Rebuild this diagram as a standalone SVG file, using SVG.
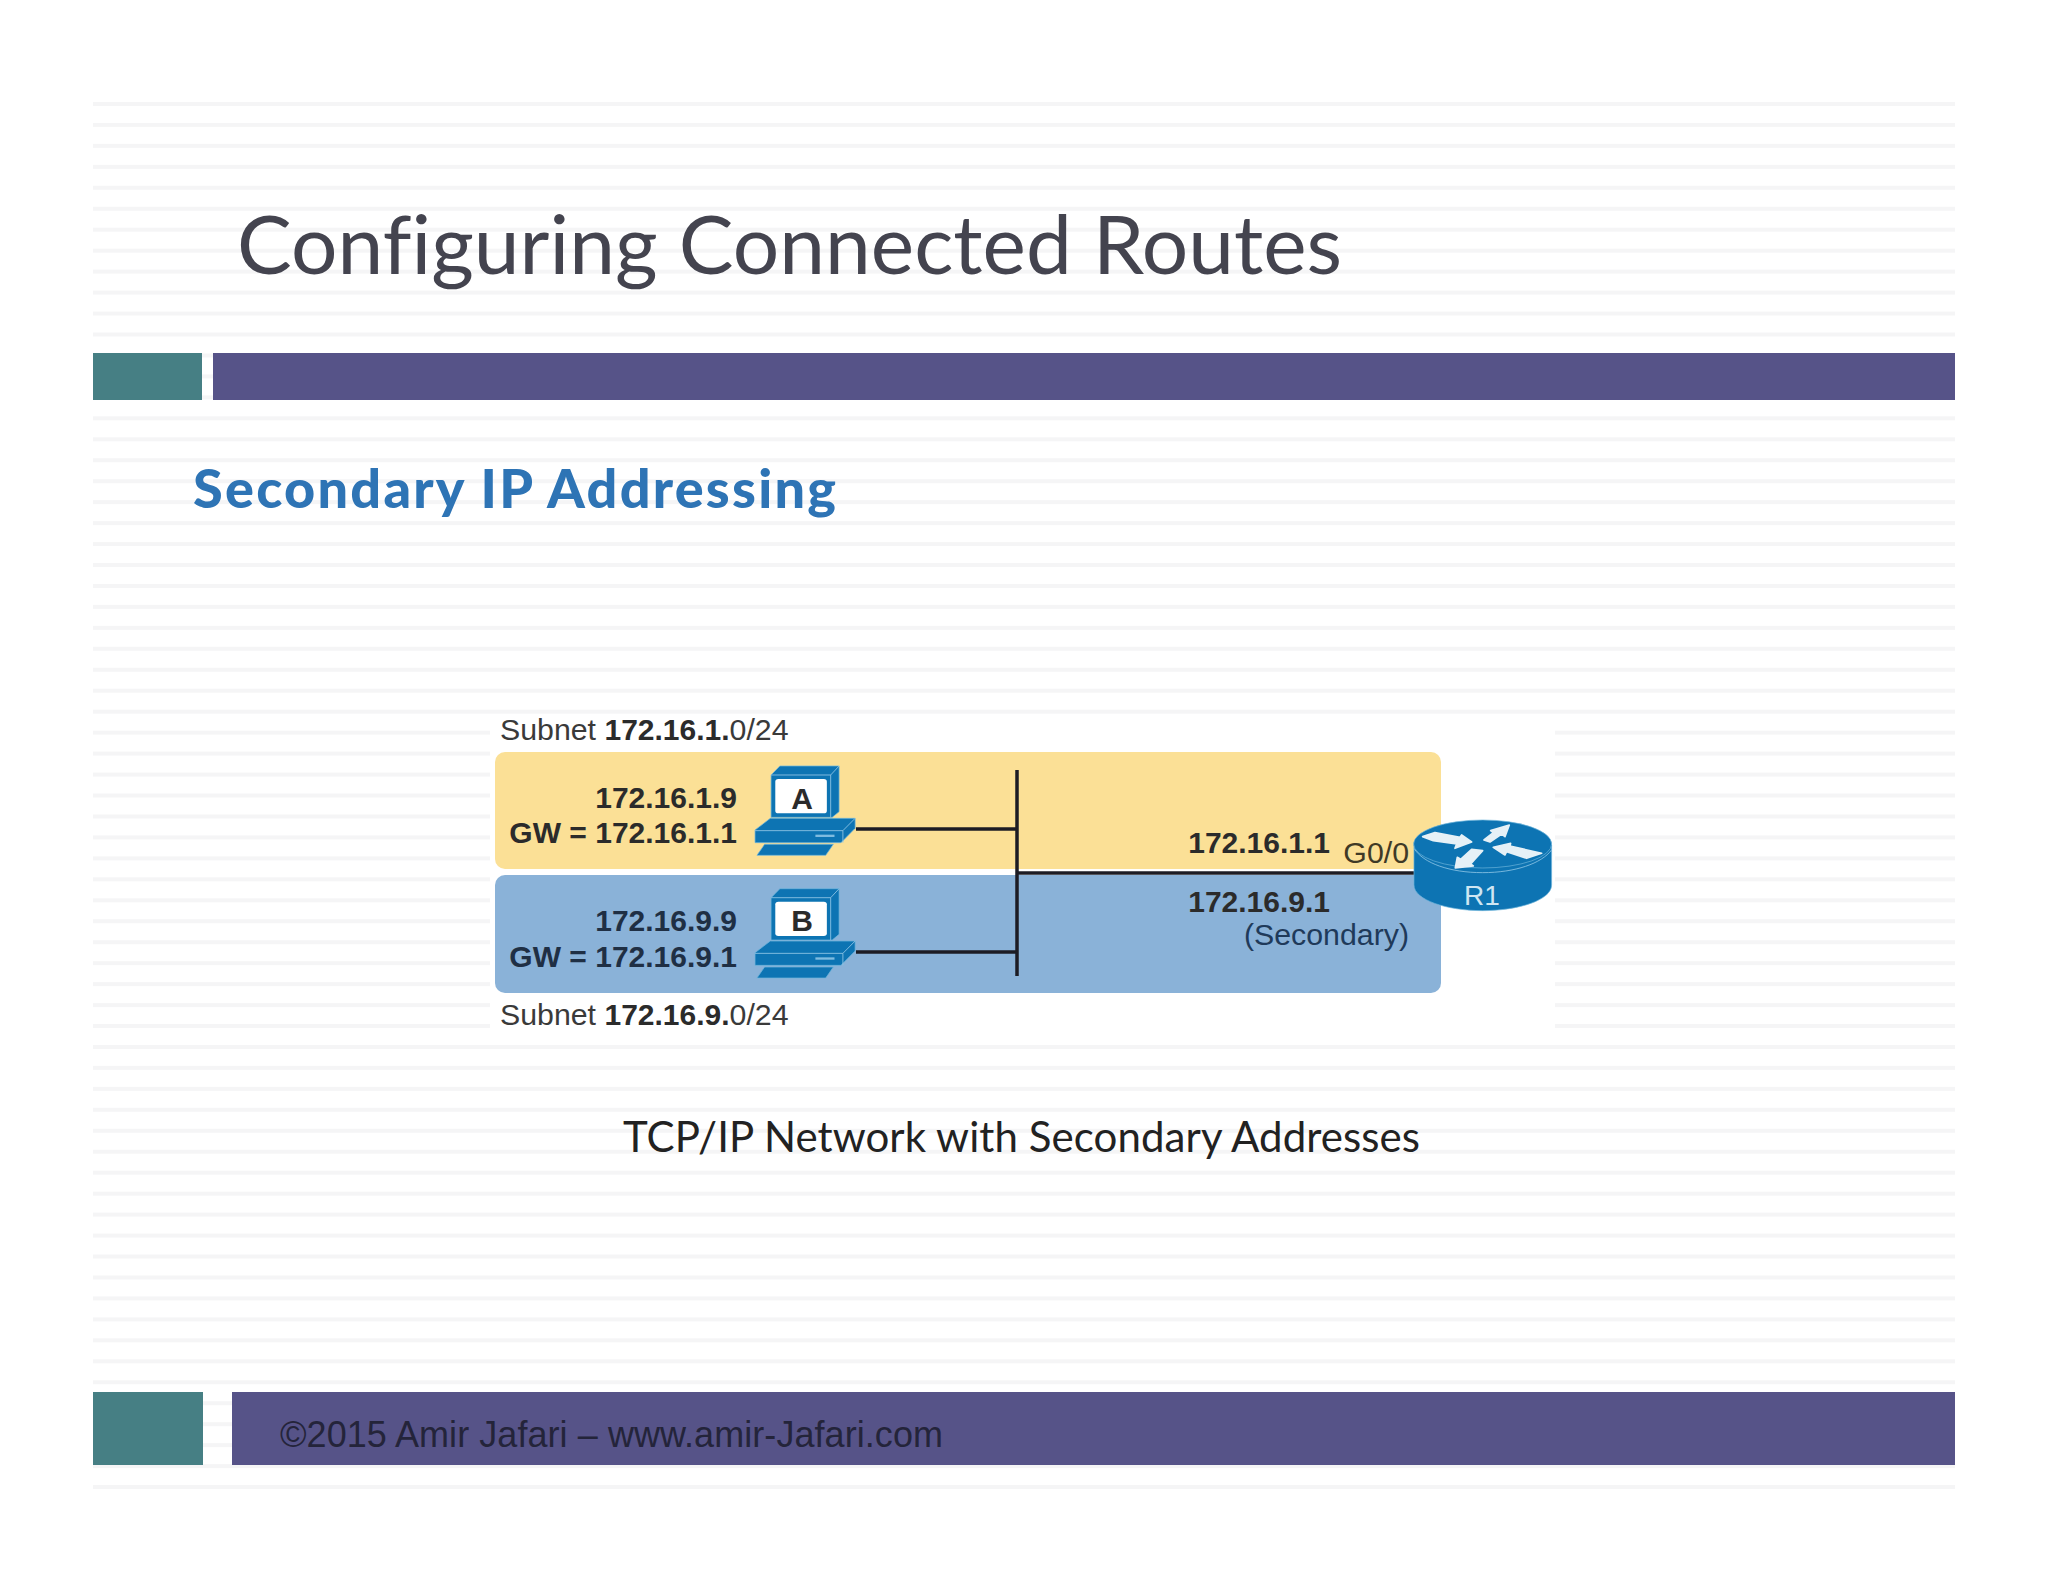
<svg xmlns="http://www.w3.org/2000/svg" width="2048" height="1582" viewBox="0 0 2048 1582">
<style>
.s{font-family:"Liberation Sans",Arial,sans-serif;font-size:30.3px;fill:#3a3a3a}
.b{font-family:"Liberation Sans",Arial,sans-serif;font-size:30px;font-weight:bold;fill:#2b2b2b;stroke:none}
.f{font-family:"Lato","Open Sans",sans-serif;font-variant-ligatures:none}
.w{stroke:#1c1c24;stroke-width:3.5;fill:none}
.ic{fill:#0d74b3;stroke:#6fb6dc;stroke-width:2;stroke-linejoin:round}
.ln{stroke:#8cc4e4;stroke-width:2.5;fill:none}
.ar{fill:#e6f1f7;stroke:#e6f1f7;stroke-width:5;stroke-linejoin:round}
</style>
<defs>
<pattern id="stripes" patternUnits="userSpaceOnUse" x="0" y="102" width="10" height="20.955">
<rect width="10" height="4" fill="#f5f5f6"/>
</pattern>
<g id="pc">
<path class="ic" d="M762 225 L785 198 H940 V335 L922 352 H762Z"/>
<path class="ln" d="M762 225 H918 L940 198 M918 225 V352"/>
<rect x="773" y="237" width="135" height="103" rx="8" fill="#fff"/>
<path class="ic" d="M720 390 L760 355 H982 V385 L945 428 H720Z"/>
<path class="ln" d="M720 392 H950 L982 355 M950 392 V428"/>
<rect x="878" y="404" width="50" height="7" fill="#7fbce0"/>
<path class="ic" d="M745 433 H925 L905 466 H725Z"/>
</g>
</defs>
<rect width="2048" height="1582" fill="#fff"/>
<rect x="93" y="102" width="1862" height="1392" fill="url(#stripes)"/>
<rect x="490" y="716" width="1065" height="312" fill="#fff"/>

<g id="header">
<rect x="93" y="353" width="109" height="47" fill="#467f84"/>
<rect x="213" y="353" width="1742" height="47" fill="#565388"/>
<text class="f" x="237" y="274" font-size="82" fill="#44444f" textLength="1105" lengthAdjust="spacing">Configuring Connected Routes</text>
<text class="f" x="193" y="508" font-size="54" font-weight="900" fill="#2e74b5" textLength="643" lengthAdjust="spacing">Secondary IP Addressing</text>
</g>

<g id="subnet-yellow">
<rect x="495" y="752" width="946" height="117" rx="10" fill="#fbe096"/>
<text class="s" x="500" y="740">Subnet <tspan class="b">172.16.1.</tspan>0/24</text>
</g>
<g id="subnet-blue">
<rect x="495" y="875" width="946" height="118" rx="10" fill="#8ab2d8"/>
<text class="s" x="500" y="1025">Subnet <tspan class="b">172.16.9.</tspan>0/24</text>
</g>

<g id="connectors">
<path class="w" d="M1017 770 V976 M856 829 H1017 M856 952 H1017"/>
<path class="w" d="M1017 873 H1420"/>
</g>

<g id="host-a">
<use href="#pc" transform="translate(480,700) scale(.382,.3333)"/>
<text class="b" x="802" y="809" text-anchor="middle" font-size="27">A</text>
<text class="b" x="737" y="808" text-anchor="end">172.16.1.9</text>
<text class="b" x="737" y="843" text-anchor="end">GW = 172.16.1.1</text>
</g>
<g id="host-b">
<use href="#pc" transform="translate(480,822.7) scale(.382,.3333)"/>
<text class="b" x="802" y="931" text-anchor="middle" font-size="27">B</text>
<text class="b" x="737" y="931" text-anchor="end" style="fill:#1f2f44">172.16.9.9</text>
<text class="b" x="737" y="967" text-anchor="end" style="fill:#1f2f44">GW = 172.16.9.1</text>
</g>

<g id="router-r1">
<g transform="translate(1060,720) scale(.3333)">
<path class="ic" d="M1062 375 V495 C1062 540 1160 572 1268 572 C1376 572 1475 540 1475 495 V375Z"/>
<ellipse class="ic" cx="1268" cy="372" rx="207" ry="72"/>
<path class="ln" d="M1062 385 C1090 430 1170 458 1268 458 C1366 458 1445 430 1475 390"/>
<path class="ar" d="M1088 350 L1125 338 L1200 352 L1205 345 L1235 366 L1185 385 L1190 372 L1120 362Z"/>
<path class="ar" d="M1272 360 L1300 338 L1292 332 L1348 315 L1335 350 L1325 342 L1290 366Z"/>
<path class="ar" d="M1300 382 L1352 370 L1350 378 L1445 400 L1400 415 L1340 395 L1335 405Z"/>
<path class="ar" d="M1268 392 L1232 432 L1240 438 L1186 444 L1192 412 L1202 418 L1235 388Z"/>
</g>
<text x="1482" y="905" text-anchor="middle" font-family="Liberation Sans, Arial, sans-serif" font-size="28" fill="#cfe6f2">R1</text>
</g>

<g id="router-labels">
<text class="b" x="1330" y="853" text-anchor="end">172.16.1.1</text>
<text class="s" x="1409" y="863" text-anchor="end" style="fill:#3f3a26">G0/0</text>
<text class="b" x="1330" y="912" text-anchor="end">172.16.9.1</text>
<text class="s" x="1409" y="945" text-anchor="end" style="fill:#1f3a5a">(Secondary)</text>
</g>

<g id="caption">
<text class="f" x="623" y="1152" font-size="42" fill="#222" textLength="797" lengthAdjust="spacing">TCP/IP Network with Secondary Addresses</text>
</g>

<g id="footer">
<rect x="93" y="1392" width="110" height="73" fill="#467f84"/>
<rect x="232" y="1392" width="1723" height="73" fill="#565388"/>
<text x="280" y="1447" font-family="Liberation Sans, Arial, sans-serif" font-size="36" fill="#24243a" textLength="663" lengthAdjust="spacing">©2015 Amir Jafari – www.amir-Jafari.com</text>
</g>
</svg>
